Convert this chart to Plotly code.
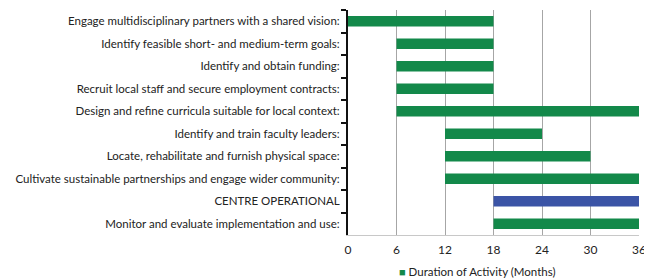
import plotly.graph_objects as go

activities = [
    "Engage multidisciplinary partners with a shared vision:",
    "Identify feasible short- and medium-term goals:",
    "Identify and obtain funding:",
    "Recruit local staff and secure employment contracts:",
    "Design and refine curricula suitable for local context:",
    "Identify and train faculty leaders:",
    "Locate, rehabilitate and furnish physical space:",
    "Cultivate sustainable partnerships and engage wider community:",
    "CENTRE OPERATIONAL",
    "Monitor and evaluate implementation and use:",
]
start_month = [0, 6, 6, 6, 6, 12, 12, 12, 18, 18]
end_month = [18, 18, 18, 18, 36, 24, 30, 36, 36, 36]
is_milestone = [False, False, False, False, False, False, False, False, True, False]
x_ticks = [0, 6, 12, 18, 24, 30, 36]
legend_label = "Duration of Activity (Months)"

GREEN = "#13894a"
BLUE = "#3b54a6"
FONT = "Lato"

fig = go.Figure()

act_g = [a for a, m in zip(activities, is_milestone) if not m]
s_g = [s for s, m in zip(start_month, is_milestone) if not m]
d_g = [e - s for s, e, m in zip(start_month, end_month, is_milestone) if not m]
act_b = [a for a, m in zip(activities, is_milestone) if m]
s_b = [s for s, m in zip(start_month, is_milestone) if m]
d_b = [e - s for s, e, m in zip(start_month, end_month, is_milestone) if m]

fig.add_trace(go.Bar(
    y=act_g, x=d_g, base=s_g, orientation="h", name=legend_label,
    marker=dict(color=GREEN, line=dict(width=0)), width=0.47,
))
fig.add_trace(go.Bar(
    y=act_b, x=d_b, base=s_b, orientation="h", name="Milestone",
    marker=dict(color=BLUE, line=dict(width=0)), width=0.47,
))

fig.add_annotation(
    xref="paper", yref="paper", x=0.168, y=-0.163, xanchor="left", yanchor="middle",
    showarrow=False,
    text="<span style='color:%s;font-size:11px'>■</span> %s" % (GREEN, legend_label),
    font=dict(family=FONT, size=11.5, color="#222222"),
)

# page body has an 8px default margin, so the figure is sized to fit the window
fig.update_layout(
    width=644, height=271,
    margin=dict(l=340, r=13, t=2, b=44, autoexpand=False),
    paper_bgcolor="white", plot_bgcolor="white",
    font=dict(family=FONT, size=12, color="#222222"),
    barmode="overlay",
    showlegend=False,
    xaxis=dict(
        range=[0, 36], tickvals=x_ticks, ticktext=[str(t) for t in x_ticks],
        showgrid=True, gridcolor="#a6a6a6", gridwidth=1,
        showline=True, linecolor="#c8c8c8", linewidth=1,
        zeroline=False, ticks="", tickfont=dict(family=FONT, size=12, color="#222222"),
        fixedrange=True, automargin=False, ticklabeloverflow="allow",
        ticklabelstandoff=4,
    ),
    yaxis=dict(
        categoryorder="array", categoryarray=activities, autorange="reversed",
        showline=True, linecolor="#111111", linewidth=2,
        ticks="outside", ticklen=5, tickcolor="#111111", tickwidth=1.5,
        tickson="boundaries", showgrid=False, automargin=False,
        tickfont=dict(family=FONT, size=11.5, color="#222222"),
        ticklabelstandoff=4,
    ),
)

fig.write_html("out.html")
